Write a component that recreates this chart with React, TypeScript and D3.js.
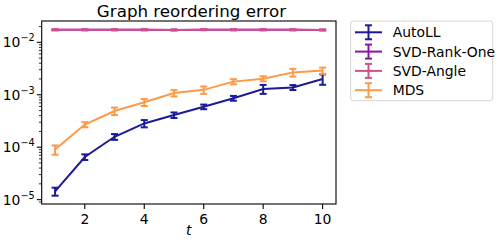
import { scaleLinear, scaleLog, line } from "d3";

const steps = [1, 2, 3, 4, 5, 6, 7, 8, 9, 10];

const autoll = [1.44e-5, 6.5e-5, 1.58e-4, 2.84e-4, 4.1e-4, 5.9e-4, 8.6e-4, 1.29e-3, 1.38e-3, 2.0e-3];
const autollErr = [2.5e-6, 8e-6, 2e-5, 4.5e-5, 5e-5, 6e-5, 9e-5, 2.5e-4, 1.5e-4, 4.5e-4];

const svdRankOne = [0.0173, 0.0173, 0.0173, 0.0173, 0.0172, 0.0174, 0.0173, 0.0173, 0.0173, 0.0172];
const svdRankOneErr = [3e-4, 3e-4, 3e-4, 3e-4, 3e-4, 3e-4, 3e-4, 3e-4, 3e-4, 3e-4];

const svdAngle = [0.0173, 0.0173, 0.0173, 0.0173, 0.0172, 0.0174, 0.0173, 0.0173, 0.0173, 0.0172];
const svdAngleErr = [3e-4, 3e-4, 3e-4, 3e-4, 3e-4, 3e-4, 3e-4, 3e-4, 3e-4, 3e-4];

const mds = [9.0e-5, 2.7e-4, 4.9e-4, 7.2e-4, 1.08e-3, 1.24e-3, 1.78e-3, 2.03e-3, 2.67e-3, 2.9e-3];
const mdsErr = [1.8e-5, 3e-5, 8e-5, 1.1e-4, 1.5e-4, 2e-4, 2e-4, 2.2e-4, 4.5e-4, 4e-4];

const seriesNames = ["AutoLL", "SVD-Rank-One", "SVD-Angle", "MDS"];
const seriesColors = ["#1c1a96", "#8d12aa", "#d2508a", "#fc9a48"];

const xTicks = [2, 4, 6, 8, 10];
const yTickExps = [-5, -4, -3, -2];

const series = [
  { name: seriesNames[0], color: seriesColors[0], values: autoll, err: autollErr },
  { name: seriesNames[1], color: seriesColors[1], values: svdRankOne, err: svdRankOneErr },
  { name: seriesNames[2], color: seriesColors[2], values: svdAngle, err: svdAngleErr },
  { name: seriesNames[3], color: seriesColors[3], values: mds, err: mdsErr },
];

const W = 499;
const H = 243;
const left = 41.7;
const right = 336;
const top = 21;
const bottom = 204;
const font = "DejaVu Sans, sans-serif";

export default function App() {
  // matplotlib style autoscale: 5% margins, log space for y
  const x = scaleLinear().domain([0.55, 10.45]).range([left, right]);

  const lows = series.flatMap((s) => s.values.map((v, i) => v - s.err[i]));
  const highs = series.flatMap((s) => s.values.map((v, i) => v + s.err[i]));
  const lo = Math.log10(Math.min(...lows));
  const hi = Math.log10(Math.max(...highs));
  const pad = (hi - lo) * 0.05;
  const y = scaleLog()
    .domain([Math.pow(10, lo - pad), Math.pow(10, hi + pad)])
    .range([bottom, top]);

  const minorTicks: number[] = [];
  for (let e = -6; e <= -1; e++) {
    for (let m = 2; m <= 9; m++) {
      const v = m * Math.pow(10, e);
      const py = y(v);
      if (py >= top && py <= bottom) minorTicks.push(v);
    }
  }

  const path = line<number>()
    .x((_, i) => x(steps[i]))
    .y((d) => y(d));

  const cap = 3.5;

  return (
    <svg
      width={W}
      height={H}
      style={{ position: "absolute", left: 0, top: 0, background: "#fff" }}
      fontFamily={font}
    >
      <rect width={W} height={H} fill="#fff" />

      {/* series */}
      {series.map((s) => (
        <g key={s.name} stroke={s.color} fill="none">
          <path d={path(s.values) ?? ""} strokeWidth={2} />
          {s.values.map((v, i) => {
            const cx = x(steps[i]);
            const y0 = y(v - s.err[i]);
            const y1 = y(v + s.err[i]);
            return (
              <g key={i} strokeWidth={2}>
                <line x1={cx} x2={cx} y1={y0} y2={y1} />
                <line x1={cx - cap} x2={cx + cap} y1={y0} y2={y0} />
                <line x1={cx - cap} x2={cx + cap} y1={y1} y2={y1} />
              </g>
            );
          })}
        </g>
      ))}

      {/* axes frame */}
      <rect
        x={left}
        y={top}
        width={right - left}
        height={bottom - top}
        fill="none"
        stroke="#000"
        strokeWidth={1.1}
      />

      {/* x ticks */}
      {xTicks.map((t) => (
        <g key={t}>
          <line x1={x(t)} x2={x(t)} y1={bottom} y2={bottom + 4.9} stroke="#000" strokeWidth={1.1} />
          <text x={x(t)} y={bottom + 19.5} fontSize={13.9} textAnchor="middle" fill="#000">
            {t}
          </text>
        </g>
      ))}

      {/* y ticks */}
      {minorTicks.map((v, i) => (
        <line key={i} x1={left - 2.8} x2={left} y1={y(v)} y2={y(v)} stroke="#000" strokeWidth={0.8} />
      ))}
      {yTickExps.map((e) => {
        const py = y(Math.pow(10, e));
        return (
          <g key={e}>
            <line x1={left - 4.9} x2={left} y1={py} y2={py} stroke="#000" strokeWidth={1.1} />
            <text x={left - 7} y={py + 5} fontSize={13.9} textAnchor="end" fill="#000">
              10
              <tspan fontSize={9.7} dy={-6}>
                {"\u2212" + Math.abs(e)}
              </tspan>
            </text>
          </g>
        );
      })}

      {/* title and label */}
      <text x={191.5} y={17} fontSize={16.7} textAnchor="middle" fill="#000">
        Graph reordering error
      </text>
      <text
        x={(left + right) / 2}
        y={235}
        fontSize={13.9}
        fontStyle="italic"
        textAnchor="middle"
        fill="#000"
      >
        t
      </text>

      {/* legend */}
      <rect
        x={350.7}
        y={21}
        width={142}
        height={79.7}
        rx={2.5}
        fill="#fff"
        fillOpacity={0.8}
        stroke="#d6d6d6"
        strokeWidth={1}
      />
      {series.map((s, i) => {
        const ly = 32.3 + i * 19.3;
        const lx0 = 355;
        const lx1 = 382;
        const mx = (lx0 + lx1) / 2;
        return (
          <g key={s.name}>
            <g stroke={s.color} strokeWidth={2}>
              <line x1={lx0} x2={lx1} y1={ly} y2={ly} />
              <line x1={mx} x2={mx} y1={ly - 7} y2={ly + 7} />
              <line x1={mx - cap} x2={mx + cap} y1={ly - 7} y2={ly - 7} />
              <line x1={mx - cap} x2={mx + cap} y1={ly + 7} y2={ly + 7} />
            </g>
            <text x={392.7} y={ly + 5} fontSize={13.9} fill="#000">
              {s.name}
            </text>
          </g>
        );
      })}
    </svg>
  );
}
